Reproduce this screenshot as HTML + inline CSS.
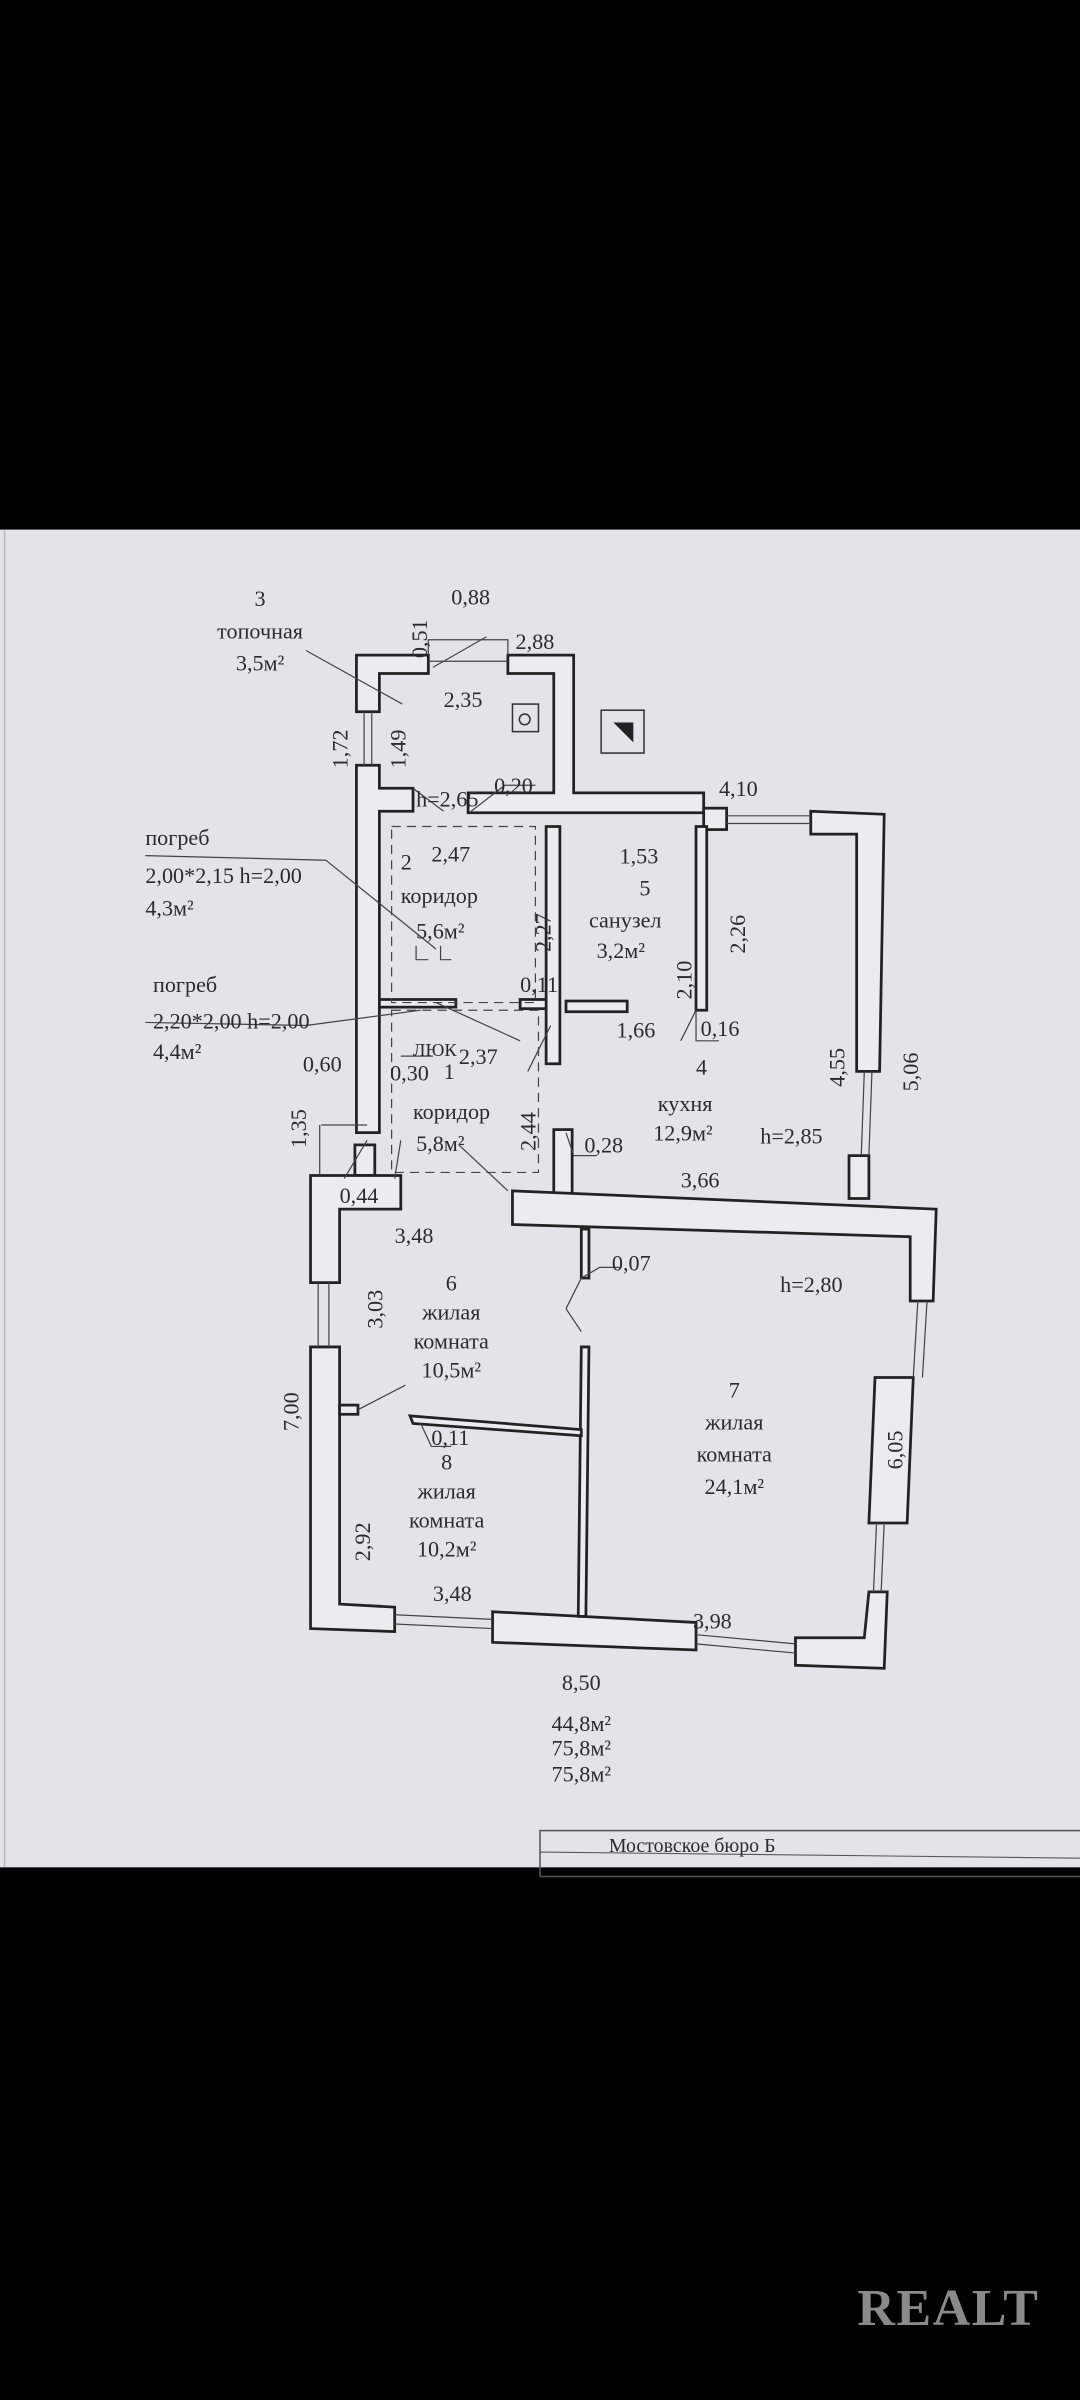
<!DOCTYPE html>
<html><head><meta charset="utf-8"><style>
html,body{margin:0;padding:0;background:#000;}
svg{display:block;}
text{font-family:"Liberation Serif",serif;fill:#2a2a30;}
</style></head><body>
<svg width="1080" height="2400" viewBox="0 0 706 1568" preserveAspectRatio="none" xmlns="http://www.w3.org/2000/svg">
<rect x="0" y="0" width="706" height="1568" fill="#000"/>
<rect x="0" y="346" width="706" height="874" fill="#e3e3e9"/>
<line x1="3" y1="346" x2="3" y2="1220" stroke="#b8b8c0" stroke-width="1"/>
<g fill="#ececf0" stroke="#222" stroke-width="1.8">
<polygon points="233,428 280,428 280,440 248,440 248,465 233,465"/>
<polygon points="233,500 248,500 248,515 270,515 270,530 248,530 248,740 233,740"/>
<polygon points="332,428 375,428 375,518 460,518 460,531 375,531 357,531 306,531 306,518 362,518 362,440 332,440"/>
<rect x="460" y="528" width="15" height="14"/>
<polygon points="530,530 578,532 575,700 560,700 560,545 530,545"/>
<polygon points="555,755 568,755 568,783 555,783"/>
<rect x="357" y="540" width="9" height="155"/>
<rect x="455" y="540" width="7" height="120"/>
<rect x="370" y="654" width="40" height="7"/>
<rect x="248" y="653" width="50" height="5"/>
<rect x="340" y="653" width="17" height="6"/>
<rect x="232" y="748" width="13" height="20"/>
<rect x="362" y="738" width="12" height="42"/>
<polygon points="203,768 262,768 262,790 222,790 222,838 203,838"/>
<polygon points="203,880 222,880 222,1048 258,1050 258,1066 203,1064"/>
<polygon points="335,778 612,790 610,850 595,850 595,808 335,800"/>
<polygon points="582,900 597,900 593,995 568,995 572,900"/>
<polygon points="568,1040 580,1040 578,1090 520,1088 520,1070 565,1070"/>
<polygon points="322,1053 455,1060 455,1078 322,1073"/>
<rect x="380" y="803" width="5" height="32"/>
<polygon points="380,880 385,880 383,1056 378,1056"/>
<polygon points="268,925 380,934 380,938 270,930"/>
<rect x="222" y="918" width="12" height="6"/>
</g>
<g stroke="#444" stroke-width="0.8" fill="none">
<line x1="238" y1="465" x2="238" y2="500"/><line x1="243" y1="465" x2="243" y2="500"/>
<line x1="475" y1="533" x2="530" y2="533"/><line x1="475" y1="538" x2="530" y2="538"/>
<line x1="565" y1="700" x2="563" y2="755"/><line x1="570" y1="700" x2="568" y2="755"/>
<line x1="208" y1="838" x2="208" y2="880"/><line x1="215" y1="838" x2="215" y2="880"/>
<line x1="600" y1="850" x2="597" y2="900"/><line x1="606" y1="850" x2="603" y2="900"/>
<line x1="573" y1="995" x2="571" y2="1040"/><line x1="578" y1="995" x2="576" y2="1040"/>
<line x1="258" y1="1055" x2="322" y2="1058"/><line x1="258" y1="1061" x2="322" y2="1064"/>
<line x1="455" y1="1068" x2="520" y2="1074"/><line x1="455" y1="1074" x2="520" y2="1080"/>
<line x1="280" y1="432" x2="332" y2="432"/>
<polyline points="280,428 280,418 332,418 332,428"/>
<line x1="283" y1="436" x2="318" y2="416"/>
<rect x="256" y="540" width="94" height="115" stroke-dasharray="6,4"/>
<rect x="256" y="660" width="96" height="106" stroke-dasharray="6,4"/>
<polyline points="272,618 272,627 280,627"/><polyline points="288,618 288,627 295,627"/>
<line x1="200" y1="425" x2="263" y2="460"/>
<polyline points="95,559 213,562 285,620"/>
<polyline points="95,668 200,670 275,660"/>
<line x1="270" y1="515" x2="290" y2="530"/>
<line x1="308" y1="530" x2="330" y2="513"/>
<line x1="330" y1="513" x2="350" y2="513"/>
<line x1="285" y1="655" x2="340" y2="680"/>
<line x1="262" y1="690" x2="283" y2="690"/>
<line x1="262" y1="745" x2="258" y2="770"/>
<line x1="240" y1="745" x2="225" y2="770"/>
<line x1="210" y1="735" x2="240" y2="735"/>
<line x1="209" y1="735" x2="209" y2="768"/>
<line x1="345" y1="700" x2="360" y2="670"/>
<line x1="300" y1="748" x2="332" y2="778"/>
<polyline points="370,740 375,755 390,755"/>
<line x1="455" y1="660" x2="445" y2="680"/>
<polyline points="455,660 455,680 470,680"/>
<polyline points="380,835 392,828 405,828"/>
<line x1="370" y1="855" x2="380" y2="835"/>
<line x1="370" y1="855" x2="380" y2="870"/>
<line x1="234" y1="921" x2="265" y2="905"/>
<polyline points="275,930 282,945 295,945"/>
</g>
<rect x="335" y="460" width="17" height="18" fill="none" stroke="#333" stroke-width="1"/>
<circle cx="343" cy="470" r="3.5" fill="none" stroke="#333"/>
<rect x="393" y="464" width="28" height="28" fill="none" stroke="#333" stroke-width="1"/>
<polygon points="401,472 414,472 414,485" fill="#222"/>
<g font-size="14.5">
<text x="170" y="396" text-anchor="middle">3</text>
<text x="170" y="417" text-anchor="middle">топочная</text>
<text x="170" y="438" text-anchor="middle">3,5м²</text>
<text x="295" y="395">0,88</text>
<text x="337" y="424">2,88</text>
<text x="290" y="462">2,35</text>
<text x="272" y="527">h=2,65</text>
<text x="323" y="518">0,20</text>
<text x="470" y="520">4,10</text>
<text x="282" y="563">2,47</text>
<text x="262" y="568">2</text>
<text x="262" y="590">коридор</text>
<text x="272" y="613">5,6м²</text>
<text x="95" y="552">погреб</text>
<text x="95" y="577">2,00*2,15 h=2,00</text>
<text x="95" y="598">4,3м²</text>
<text x="100" y="648">погреб</text>
<text x="100" y="672">2,20*2,00 h=2,00</text>
<text x="100" y="692">4,4м²</text>
<text x="270" y="690" font-size="12">ЛЮК</text>
<text x="300" y="695">2,37</text>
<text x="340" y="648">0,11</text>
<text x="198" y="700">0,60</text>
<text x="255" y="706">0,30</text>
<text x="290" y="705">1</text>
<text x="270" y="731">коридор</text>
<text x="272" y="752">5,8м²</text>
<text x="405" y="564">1,53</text>
<text x="418" y="585">5</text>
<text x="385" y="606">санузел</text>
<text x="390" y="626">3,2м²</text>
<text x="403" y="678">1,66</text>
<text x="458" y="677">0,16</text>
<text x="455" y="702">4</text>
<text x="430" y="726">кухня</text>
<text x="427" y="745">12,9м²</text>
<text x="497" y="747">h=2,85</text>
<text x="382" y="753">0,28</text>
<text x="445" y="776">3,66</text>
<text x="222" y="786">0,44</text>
<text x="258" y="812">3,48</text>
<text x="400" y="830">0,07</text>
<text x="510" y="844">h=2,80</text>
<text x="295" y="843" text-anchor="middle">6</text>
<text x="295" y="862" text-anchor="middle">жилая</text>
<text x="295" y="881" text-anchor="middle">комната</text>
<text x="295" y="900" text-anchor="middle">10,5м²</text>
<text x="282" y="944">0,11</text>
<text x="292" y="960" text-anchor="middle">8</text>
<text x="292" y="979" text-anchor="middle">жилая</text>
<text x="292" y="998" text-anchor="middle">комната</text>
<text x="292" y="1017" text-anchor="middle">10,2м²</text>
<text x="283" y="1046">3,48</text>
<text x="480" y="913" text-anchor="middle">7</text>
<text x="480" y="934" text-anchor="middle">жилая</text>
<text x="480" y="955" text-anchor="middle">комната</text>
<text x="480" y="976" text-anchor="middle">24,1м²</text>
<text x="453" y="1064">3,98</text>
<text x="380" y="1104" text-anchor="middle">8,50</text>
<text x="380" y="1131" text-anchor="middle">44,8м²</text>
<text x="380" y="1147" text-anchor="middle">75,8м²</text>
<text x="380" y="1164" text-anchor="middle">75,8м²</text>
<text transform="translate(279,430) rotate(-90)">0,51</text>
<text transform="translate(227,502) rotate(-90)">1,72</text>
<text transform="translate(265,502) rotate(-90)">1,49</text>
<text transform="translate(360,622) rotate(-90)">2,27</text>
<text transform="translate(452,653) rotate(-90)">2,10</text>
<text transform="translate(487,623) rotate(-90)">2,26</text>
<text transform="translate(552,710) rotate(-90)">4,55</text>
<text transform="translate(600,713) rotate(-90)">5,06</text>
<text transform="translate(200,750) rotate(-90)">1,35</text>
<text transform="translate(350,752) rotate(-90)">2,44</text>
<text transform="translate(250,868) rotate(-90)">3,03</text>
<text transform="translate(195,935) rotate(-90)">7,00</text>
<text transform="translate(242,1020) rotate(-90)">2,92</text>
<text transform="translate(590,960) rotate(-90)">6,05</text>
</g>
<rect x="353" y="1196" width="360" height="30" fill="none" stroke="#555" stroke-width="1"/>
<line x1="353" y1="1210" x2="706" y2="1214" stroke="#555" stroke-width="0.7"/>
<text x="398" y="1210" font-size="13">Мостовское бюро Б</text>
<text x="620" y="1519" font-size="34" font-family="Liberation Sans, sans-serif" font-weight="bold" style="fill:#8a8a8a" text-anchor="middle" letter-spacing="1">REALT</text>
</svg>
</body></html>
